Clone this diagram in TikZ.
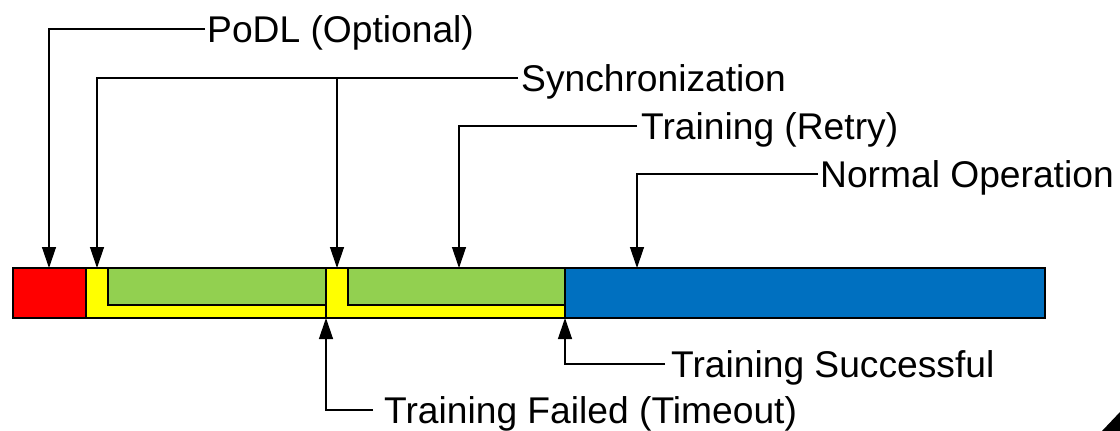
\documentclass[tikz,border=0pt]{standalone}
\usepackage{fontspec}
\setmainfont{Liberation Sans}
\usetikzlibrary{arrows.meta}
\definecolor{podlRed}{HTML}{FF0000}
\definecolor{syncYellow}{HTML}{FFFF00}
\definecolor{trainGreen}{HTML}{92D050}
\definecolor{normalBlue}{HTML}{0070C0}
\begin{document}
\begin{tikzpicture}[x=1pt,y=-1pt,
    lbl/.style={anchor=west,inner sep=0pt,text height=26.6pt,text depth=0pt,
      font=\fontsize{37.2}{40}\selectfont},
    pointer/.style={-{Triangle[length=21pt,width=14pt]},line width=1.3pt}]
  %% Conveniant macros for adjusting size later
  \pgfmathsetmacro{\barTop}{268}
  \pgfmathsetmacro{\barBottom}{318}
  \pgfmathsetmacro{\greenBottom}{305}
  \pgfmathsetmacro{\barStart}{13}
  \pgfmathsetmacro{\podlEnd}{86}
  \pgfmathsetmacro{\timeoutAt}{326}
  \pgfmathsetmacro{\successAt}{565}
  \pgfmathsetmacro{\barEnd}{1045}
  \useasboundingbox (0,0) rectangle (1120,431);
  %% Bar segments
  \fill[podlRed] (\barStart,\barTop) rectangle (\podlEnd,\barBottom);
  \fill[syncYellow] (\podlEnd,\barTop) rectangle (\successAt,\barBottom);
  \fill[trainGreen] (108,\barTop) rectangle (\timeoutAt,\greenBottom);
  \fill[trainGreen] (348,\barTop) rectangle (\successAt,\greenBottom);
  \fill[normalBlue] (\successAt,\barTop) rectangle (\barEnd,\barBottom);
  %% Outlines
  \draw[line width=1.3pt] (\barStart,\barTop) rectangle (\barEnd,\barBottom);
  \draw[line width=1.3pt] (\podlEnd,\barTop) -- (\podlEnd,\barBottom);
  \draw[line width=1.3pt] (108,\barTop) -- (108,\greenBottom) -- (\timeoutAt,\greenBottom);
  \draw[line width=1.3pt] (\timeoutAt,\barTop) -- (\timeoutAt,\barBottom);
  \draw[line width=1.3pt] (348,\barTop) -- (348,\greenBottom) -- (\successAt,\greenBottom);
  \draw[line width=1.3pt] (\successAt,\barTop) -- (\successAt,\barBottom);
  %% Arrow tips
  \coordinate (podlTip) at (49,\barTop);
  \coordinate (syncTipA) at (97,\barTop);
  \coordinate (syncTipB) at (337,\barTop);
  \coordinate (retryTip) at (459,\barTop);
  \coordinate (normalTip) at (637,\barTop);
  \coordinate (failTip) at (\timeoutAt,\barBottom);
  \coordinate (successTip) at (\successAt,\barBottom);
  %% Labels
  \node[lbl] (podlLabel) at (207,29) {PoDL (Optional)};
  \node[lbl] (syncLabel) at (521,78) {Synchronization};
  \node[lbl] (retryLabel) at (641,126) {Training (Retry)};
  \node[lbl] (normalLabel) at (820,174) {Normal Operation};
  \node[lbl] (successLabel) at (671,364) {Training Successful};
  \node[lbl] (failLabel) at (384,410) {Training Failed (Timeout)};
  %% Pointers
  \draw[pointer] ([xshift=-2pt]podlLabel.west) -| (podlTip);
  \draw[pointer] ([xshift=-3pt]syncLabel.west) -| (syncTipA);
  \draw[pointer] (syncTipB |- syncLabel.west) -- (syncTipB);
  \draw[pointer] ([xshift=-4pt]retryLabel.west) -| (retryTip);
  \draw[pointer] ([xshift=-2pt]normalLabel.west) -| (normalTip);
  \draw[pointer] ([xshift=-6pt]successLabel.west) -| (successTip);
  \draw[pointer] ([xshift=-11pt]failLabel.west) -| (failTip);
  %% Corner mark
  \fill (1102,431) -- (1120,431) -- (1120,412) -- cycle;
\end{tikzpicture}
\end{document}
